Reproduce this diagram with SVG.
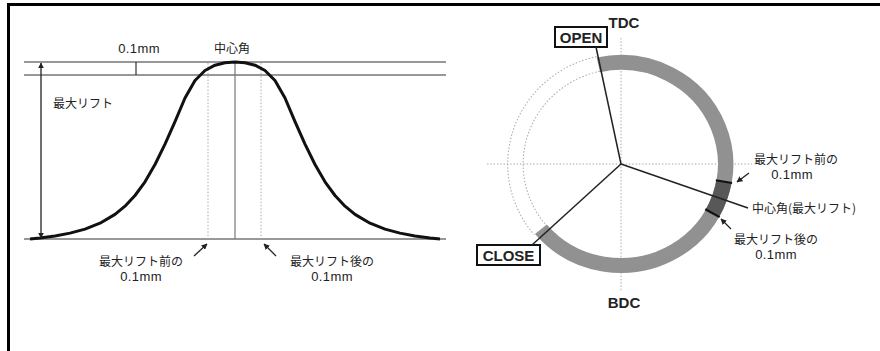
<svg xmlns="http://www.w3.org/2000/svg" width="880" height="351" viewBox="0 0 880 351">
<defs>
<style>
.jp{font-family:"Noto Sans CJK JP","Noto Sans",sans-serif;font-size:12px;fill:#222}
.mm{font-family:"Liberation Sans",Arial,sans-serif;font-size:13px;letter-spacing:0.4px;fill:#222}
.bl{font-family:"Liberation Sans",Arial,sans-serif;font-weight:bold;font-size:15px;fill:#222}
.thin{stroke:#333;stroke-width:1.2;fill:none}
.dot{stroke:#aaa;stroke-width:1;stroke-dasharray:1.5 1.8;fill:none}
.lead{stroke:#222;stroke-width:1.5;fill:none}
.arr{stroke:#222;stroke-width:1.3;fill:none;marker-end:url(#ah)}
</style>
<marker id="ah" viewBox="0 0 10 10" refX="9" refY="5" markerWidth="6" markerHeight="6" markerUnits="userSpaceOnUse" orient="auto-start-reverse">
<path d="M0,0 L10,5 L0,10 z" fill="#222"/>
</marker>
</defs>
<rect width="880" height="351" fill="#fff"/>
<g id="frame" fill="none" stroke="#000" stroke-width="3">
<path d="M8.5,351 V4.5 H880"/>
</g>

<g id="lift-graph">
<line class="thin" x1="24" y1="62" x2="446" y2="62"/>
<line class="thin" x1="24" y1="75" x2="446" y2="75"/>
<line class="thin" x1="24" y1="239" x2="446" y2="239" stroke-width="1.5"/>
<line class="thin" x1="136" y1="62" x2="136" y2="75"/>
<line class="dot" x1="208" y1="63" x2="208" y2="239"/>
<line class="dot" x1="261" y1="63" x2="261" y2="239"/>
<line x1="235" y1="62" x2="235" y2="239" stroke="#777" stroke-width="1.2"/>
<polyline fill="none" stroke="#111" stroke-width="3" stroke-linejoin="round" points="30,239 40,238 55,236 70,233.1 85,229.1 100,223.2 115,214.4 125,206.2 135,195.5 145,181.8 155,164.5 165,144.1 175,121.6 185,98 195,80.5 205,70.5 215,65.2 225,62.8 235,62 245,62.8 255,65.2 265,70.5 275,80.5 285,98 295,121.6 305,144.1 315,164.5 325,181.8 335,195.5 345,206.2 355,214.4 370,223.2 385,229.1 400,233.1 415,236 430,238 440,239"/>
<text class="mm" x="139" y="53" text-anchor="middle">0.1mm</text>
<text class="jp" x="232" y="53" text-anchor="middle">中心角</text>
<text class="jp" x="53" y="108">最大リフト</text>
<text class="jp" x="141" y="266" text-anchor="middle">最大リフト前の</text>
<text class="mm" x="141" y="281" text-anchor="middle">0.1mm</text>
<text class="jp" x="332" y="266" text-anchor="middle">最大リフト後の</text>
<text class="mm" x="332" y="281" text-anchor="middle">0.1mm</text>
</g>

<g id="timing-circle">
<line class="dot" x1="487" y1="164" x2="752" y2="164"/>
<line class="dot" x1="621" y1="38" x2="621" y2="292"/>
<g transform="translate(621,164) scale(1.03,1)">
<path class="dot" d="M-23.81,-107.39 A110,110 0 0 0 -84.26,70.71"/>
<path class="dot" d="M-20.56,-92.75 A95,95 0 0 0 -72.77,61.07"/>
<path d="M-21.97,-99.10 A101.5,101.5 0 1 1 -77.75,65.26" fill="none" stroke="#919191" stroke-width="15"/>
<path d="M99.96,17.62 A101.5,101.5 0 0 1 88.77,49.21" fill="none" stroke="#585858" stroke-width="15"/>
<line x1="92.08" y1="16.24" x2="107.83" y2="19.01" stroke="#111" stroke-width="2.2"/>
<line x1="81.78" y1="45.33" x2="95.77" y2="53.09" stroke="#111" stroke-width="2.2"/>
</g>
<text class="bl" x="624" y="28" text-anchor="middle">TDC</text>
<text class="bl" x="624" y="308" text-anchor="middle">BDC</text>
</g>

<g id="open-label">
<rect x="555" y="27" width="52" height="20" fill="#fff" stroke="#111" stroke-width="2"/>
<text class="bl" x="581" y="43" text-anchor="middle">OPEN</text>
</g>
<g id="close-label">
<rect x="477" y="245" width="63" height="20" fill="#fff" stroke="#111" stroke-width="2"/>
<text class="bl" x="508.5" y="261" text-anchor="middle">CLOSE</text>
</g>
<g id="pre-label">
<text class="jp" x="796" y="164" text-anchor="middle">最大リフト前の</text>
<text class="mm" x="792" y="179" text-anchor="middle">0.1mm</text>
</g>
<g id="center-label">
<text class="jp" x="752" y="213">中心角(最大リフト)</text>
</g>
<g id="post-label">
<text class="jp" x="776" y="244" text-anchor="middle">最大リフト後の</text>
<text class="mm" x="776" y="259" text-anchor="middle">0.1mm</text>
</g>

<g id="connectors">
<line x1="41" y1="63" x2="41" y2="238" stroke="#222" stroke-width="1.3" marker-start="url(#ah)" marker-end="url(#ah)"/>
<line class="arr" x1="194" y1="256" x2="207" y2="244"/>
<line class="arr" x1="276" y1="256" x2="264" y2="244"/>
<line class="lead" x1="621" y1="164" x2="596" y2="47"/>
<line class="lead" x1="621" y1="164" x2="532" y2="245"/>
<line class="lead" x1="621" y1="164" x2="748" y2="208"/>
<line class="arr" x1="749" y1="173" x2="737" y2="182"/>
<line class="arr" x1="731" y1="229" x2="721" y2="219"/>
</g>
</svg>
